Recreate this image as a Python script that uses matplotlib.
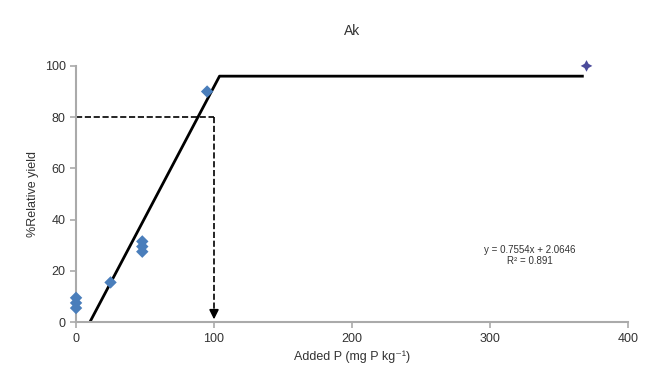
import matplotlib.pyplot as plt
import numpy as np

# observed points
added_p = [0, 0, 0, 25, 48, 48, 48, 95]
rel_yield = [5.5, 7.5, 9.5, 15.5, 27.5, 29.5, 31.5, 90]
extra_x = [370]
extra_y = [100]

# linear-plateau fit
fit_x = [10, 104, 367]
fit_y = [0, 96, 96]

target_y = 80
critical_p = 100

plt.rcParams['font.family'] = ['Liberation Sans', 'DejaVu Sans']
fig = plt.figure(figsize=(6.5, 3.9), dpi=100)
ax = fig.add_axes([0.117, 0.174, 0.849, 0.657])

ax.plot(fit_x, fit_y, color='black', lw=2, zorder=2)
ax.scatter(added_p, rel_yield, marker='D', s=40, color='#4a7ebb', edgecolor='none',
           zorder=3, clip_on=False)
ax.scatter(extra_x, extra_y, marker=(4, 1, 0), s=70, color='#4b4b9b', edgecolor='none',
           zorder=3, clip_on=False)

ax.plot([0, critical_p], [target_y, target_y], color='black', ls='--', lw=1.2)
ax.plot([critical_p, critical_p], [target_y, 3], color='black', ls='--', lw=1.2)
ax.annotate('', xy=(critical_p, 0), xytext=(critical_p, 4),
            arrowprops=dict(arrowstyle='-|>', color='black', lw=1.2,
                            mutation_scale=14))

ax.text(329, 26, 'y = 0.7554x + 2.0646\nR² = 0.891', fontsize=7, color='#333333',
        ha='center', va='center', linespacing=1.1)

ax.set_xlim(0, 400)
ax.set_ylim(0, 100)
ax.set_xticks([0, 100, 200, 300, 400])
ax.set_yticks([0, 20, 40, 60, 80, 100])
for s in ['top', 'right']:
    ax.spines[s].set_visible(False)
for s in ['left', 'bottom']:
    ax.spines[s].set_color('#aaaaaa')
    ax.spines[s].set_linewidth(1.5)
ax.tick_params(colors='#aaaaaa', labelcolor='#333333', labelsize=9, length=4, width=1.2)

ax.set_title('Ak', fontsize=10, color='#333333', pad=22)
ax.set_xlabel('Added P (mg P kg⁻¹)', fontsize=9, color='#333333')
ax.set_ylabel('%Relative yield', fontsize=9, color='#333333')

fig.savefig('out.png', dpi=100)
